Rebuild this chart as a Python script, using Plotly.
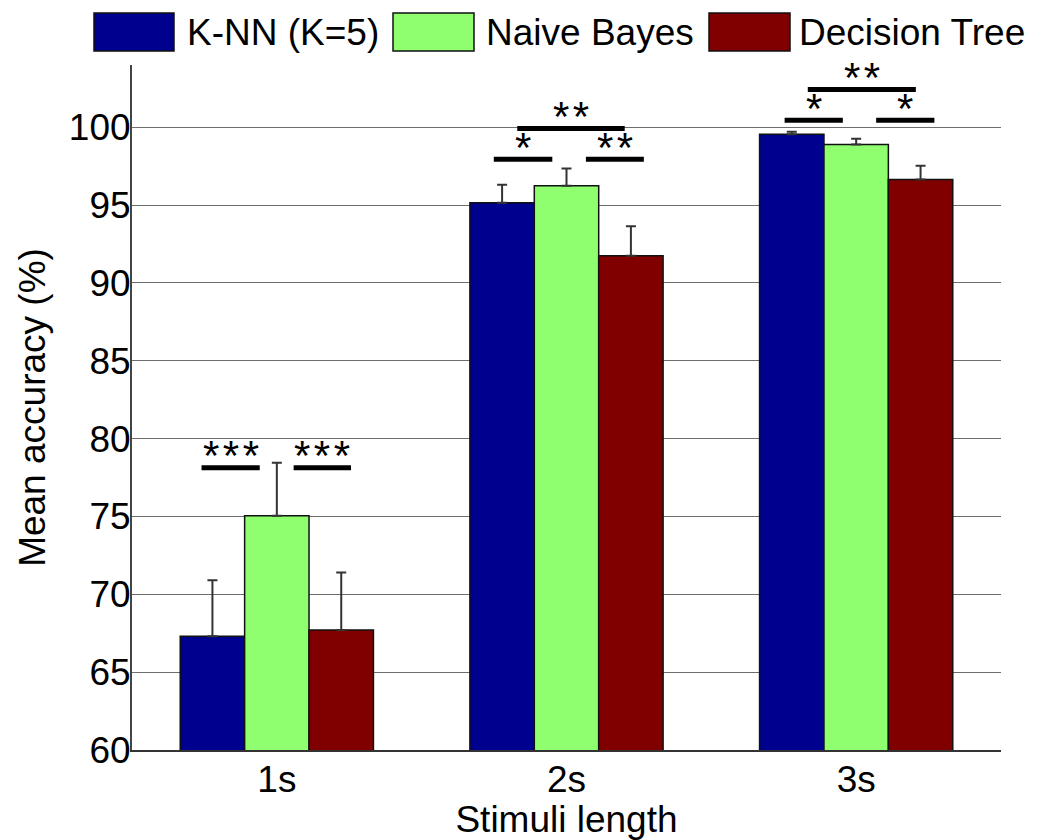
import plotly.graph_objects as go

# ---------------- data ----------------
categories = ["1s", "2s", "3s"]
series_names = ["K-NN (K=5)", "Naive Bayes", "Decision Tree"]
knn_mean = [67.3, 95.15, 99.55]
knn_err = [3.6, 1.15, 0.17]
nb_mean = [75.05, 96.25, 98.9]
nb_err = [3.4, 1.1, 0.36]
dt_mean = [67.7, 91.75, 96.65]
dt_err = [3.7, 1.9, 0.88]
y_ticks = [60, 65, 70, 75, 80, 85, 90, 95, 100]

# significance brackets: category index, start/end offset from the category centre, level, label
sig_group = [0, 0, 1, 1, 1, 2, 2, 2]
sig_x0 = [-0.26, 0.058, -0.251, 0.067, -0.17, -0.247, 0.069, -0.167]
sig_x1 = [-0.059, 0.256, -0.049, 0.267, 0.201, -0.046, 0.27, 0.206]
sig_y = [78.13, 78.13, 97.95, 97.95, 99.92, 100.45, 100.45, 102.42]
sig_label = ["***", "***", "*", "**", "**", "*", "*", "**"]

# ---------------- style ----------------
colors = ["#00008F", "#8FFF70", "#800000"]
FONT = "Liberation Sans, Arial, sans-serif"
W, H = 1047, 840
ML, MR, MT, MB = 132, 46, 65, 90
PW, PH = W - ML - MR, H - MT - MB


def px_x(px):
    return (px - ML) / PW


def px_y(py):
    return (H - MB - py) / PH


x_idx = list(range(len(categories)))
means = [knn_mean, nb_mean, dt_mean]
errs = [knn_err, nb_err, dt_err]

fig = go.Figure()
for name, m, e, c in zip(series_names, means, errs, colors):
    fig.add_trace(go.Bar(
        x=x_idx, y=m, name=name,
        marker=dict(color=c, line=dict(color="#111111", width=1.5)),
        error_y=dict(type="data", symmetric=False, array=e,
                     arrayminus=[0] * len(e), color="#333333",
                     thickness=2, width=5),
        showlegend=False,
    ))

# significance lines and stars
shapes = []
annotations = []
for g, a, b, yv, lab in zip(sig_group, sig_x0, sig_x1, sig_y, sig_label):
    shapes.append(dict(type="line", xref="x", yref="y",
                       x0=g + a, x1=g + b, y0=yv, y1=yv,
                       line=dict(color="black", width=5)))
    annotations.append(dict(x=g + (a + b) / 2, y=yv, xref="x", yref="y",
                            text="\u200a".join(lab), showarrow=False,
                            xanchor="center", yanchor="middle", yshift=12,
                            font=dict(family=FONT, size=42, color="black")))

# manual legend (large swatches like the original)
leg_boxes = [(94, 174), (393, 474), (709, 790)]
leg_text_x = [185, 484, 797]
for (bx0, bx1), tx, name, c in zip(leg_boxes, leg_text_x, series_names, colors):
    shapes.append(dict(type="rect", xref="paper", yref="paper",
                       x0=px_x(bx0), x1=px_x(bx1), y0=px_y(51), y1=px_y(13),
                       fillcolor=c, line=dict(color="#111111", width=1.5)))
    annotations.append(dict(x=px_x(tx), y=px_y(32), xref="paper", yref="paper",
                            text=name, showarrow=False, xanchor="left",
                            yanchor="middle",
                            font=dict(family=FONT, size=37, color="black")))

fig.update_layout(
    width=W, height=H,
    margin=dict(l=ML, r=MR, t=MT, b=MB, autoexpand=False),
    paper_bgcolor="white", plot_bgcolor="white",
    barmode="group", bargap=0.333, bargroupgap=0,
    font=dict(family=FONT, size=37, color="black"),
    shapes=shapes, annotations=annotations,
    xaxis=dict(range=[-0.5, 2.5], tickmode="array", tickvals=x_idx,
               ticktext=categories, showgrid=False, zeroline=False,
               showline=True, linecolor="#333333", linewidth=2,
               ticks="", ticklabelstandoff=-4, automargin=False,
               tickfont=dict(family=FONT, size=37),
               title=dict(text="Stimuli length", standoff=0,
                          font=dict(family=FONT, size=37))),
    yaxis=dict(range=[60, 104], tickmode="array", tickvals=y_ticks,
               showgrid=True, gridcolor="#6e6e6e", gridwidth=1,
               zeroline=False, showline=True, linecolor="#444444",
               linewidth=2, ticks="", ticklabelstandoff=-8,
               automargin=False,
               tickfont=dict(family=FONT, size=37),
               title=dict(text="Mean accuracy (%)", standoff=12,
                          font=dict(family=FONT, size=37))),
)

fig.write_html("out.html")
